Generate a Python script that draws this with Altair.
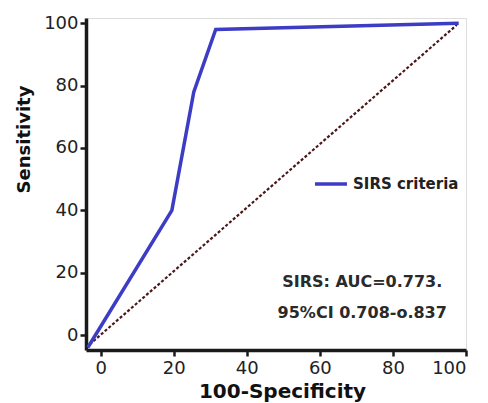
import altair as alt
import pandas as pd

# ROC curve points (100-Specificity, Sensitivity)
roc_x = [-3.5, 19.5, 25.5, 31.5, 98.0]
roc_y = [-4.0, 40.0, 78.0, 98.0, 100.0]
series_name = ["SIRS criteria"] * len(roc_x)

# reference diagonal
diag_x = [-3.0, 97.5]
diag_y = [-3.0, 99.5]

# annotation
note_lines = ["SIRS: AUC=0.773.", "95%CI 0.708-o.837"]
note_x = [71.6, 71.6]
note_y = [17.0, 7.0]

x_ticks = [0, 20, 40, 60, 80, 100]
y_ticks = [0, 20, 40, 60, 80, 100]

roc_df = pd.DataFrame({"x": roc_x, "y": roc_y, "series": series_name, "order": list(range(len(roc_x)))})
diag_df = pd.DataFrame({"x": diag_x, "y": diag_y})
note_df = pd.DataFrame({"x": note_x, "y": note_y, "t": note_lines})

xscale = alt.Scale(domain=[-4, 100], nice=False, zero=False)
yscale = alt.Scale(domain=[-4.8, 101.7], nice=False, zero=False)

xaxis = alt.Axis(values=x_ticks, title="100-Specificity", grid=False,
                 domainColor="#1a1a1a", domainWidth=3.5, tickColor="#1a1a1a", tickWidth=2.5,
                 tickSize=6, labelFont="DejaVu Sans", labelFontSize=18, labelColor="#222",
                 labelPadding=3, titleFont="DejaVu Sans", titleFontSize=20, titleFontWeight="bold",
                 titleColor="#111", titlePadding=4, titleX=196)
yaxis = alt.Axis(values=y_ticks, title="Sensitivity", grid=False,
                 domainColor="#1a1a1a", domainWidth=3.5, tickColor="#1a1a1a", tickWidth=2.5,
                 tickSize=6, labelFont="DejaVu Sans", labelFontSize=18, labelColor="#222",
                 labelPadding=2, titleFont="DejaVu Sans", titleFontSize=18, titleFontWeight="bold",
                 titleColor="#111", titlePadding=10, titleY=121)

diag = alt.Chart(diag_df).mark_line(color="#4a1818", strokeWidth=2.2, strokeDash=[3, 2]).encode(
    x=alt.X("x:Q", scale=xscale, axis=xaxis),
    y=alt.Y("y:Q", scale=yscale, axis=yaxis),
)

roc = alt.Chart(roc_df).mark_line(strokeWidth=3.5).encode(
    x=alt.X("x:Q", scale=xscale),
    y=alt.Y("y:Q", scale=yscale),
    order="order:Q",
    color=alt.Color("series:N", scale=alt.Scale(domain=["SIRS criteria"], range=["#3c3cc4"]),
                    legend=alt.Legend(title=None, orient="none", legendX=227, legendY=148,
                                      symbolType="stroke", symbolSize=1024, symbolStrokeWidth=3.5,
                                      labelFont="DejaVu Sans", labelFontWeight="bold", labelFontSize=15,
                                      labelColor="#222", padding=0)),
)

note = alt.Chart(note_df).mark_text(font="DejaVu Sans", fontWeight="bold", fontSize=16, color="#2a2a2a",
                                     align="center", baseline="middle").encode(
    x=alt.X("x:Q", scale=xscale),
    y=alt.Y("y:Q", scale=yscale),
    text="t:N",
)

chart = alt.layer(diag, roc, note).properties(
    width=380, height=332,
    padding={"left": 78, "top": 10, "right": 14, "bottom": 53},
    autosize=alt.AutoSizeParams(type="none"),
).configure_view(stroke=None).configure(background="white")

chart.save("out.html", embed_options={"renderer": "svg", "actions": False})
